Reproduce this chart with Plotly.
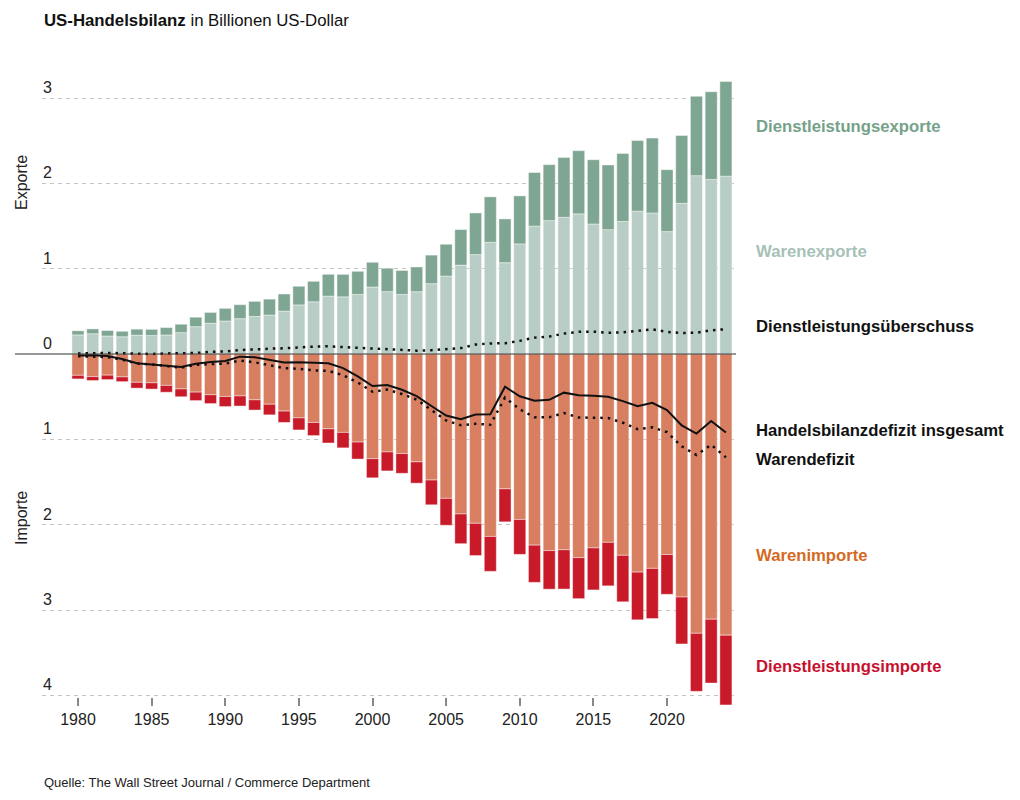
import plotly.graph_objects as go

W, H = 1020, 800

years = list(range(1980, 2025))

# Billionen US-Dollar (trillions)
goods_exports = [0.224, 0.237, 0.211, 0.202, 0.220, 0.216, 0.223, 0.250, 0.320, 0.360,
                 0.387, 0.414, 0.440, 0.457, 0.503, 0.575, 0.612, 0.678, 0.670, 0.698,
                 0.785, 0.731, 0.698, 0.730, 0.824, 0.913, 1.041, 1.165, 1.309, 1.070,
                 1.290, 1.499, 1.563, 1.602, 1.642, 1.524, 1.457, 1.553, 1.674, 1.653,
                 1.434, 1.766, 2.090, 2.046, 2.084]
services_exports = [0.048, 0.057, 0.064, 0.064, 0.071, 0.073, 0.087, 0.099, 0.111, 0.127,
                    0.148, 0.164, 0.177, 0.186, 0.200, 0.219, 0.240, 0.256, 0.263, 0.271,
                    0.290, 0.274, 0.281, 0.290, 0.335, 0.373, 0.417, 0.488, 0.533, 0.513,
                    0.563, 0.628, 0.656, 0.701, 0.741, 0.753, 0.759, 0.798, 0.827, 0.877,
                    0.726, 0.795, 0.930, 1.027, 1.108]
goods_imports = [0.250, 0.265, 0.248, 0.269, 0.332, 0.338, 0.368, 0.410, 0.447, 0.478,
                 0.498, 0.491, 0.537, 0.589, 0.669, 0.749, 0.803, 0.877, 0.919, 1.032,
                 1.227, 1.148, 1.167, 1.264, 1.477, 1.692, 1.875, 1.984, 2.138, 1.580,
                 1.939, 2.240, 2.304, 2.294, 2.386, 2.273, 2.207, 2.359, 2.556, 2.512,
                 2.350, 2.848, 3.273, 3.108, 3.295]
services_imports = [0.042, 0.046, 0.052, 0.055, 0.068, 0.073, 0.080, 0.091, 0.099, 0.103,
                    0.118, 0.119, 0.120, 0.124, 0.133, 0.141, 0.153, 0.166, 0.181, 0.199,
                    0.224, 0.222, 0.231, 0.250, 0.290, 0.315, 0.348, 0.378, 0.409, 0.387,
                    0.409, 0.436, 0.452, 0.461, 0.481, 0.492, 0.510, 0.545, 0.559, 0.588,
                    0.466, 0.550, 0.680, 0.748, 0.817]

services_surplus = [0.006, 0.012, 0.012, 0.009, 0.004, 0.000, 0.007, 0.008, 0.012, 0.025,
                    0.030, 0.046, 0.058, 0.062, 0.067, 0.078, 0.087, 0.090, 0.082, 0.072,
                    0.067, 0.053, 0.050, 0.039, 0.045, 0.058, 0.069, 0.110, 0.124, 0.126,
                    0.154, 0.192, 0.204, 0.239, 0.260, 0.262, 0.249, 0.253, 0.268, 0.288,
                    0.260, 0.245, 0.250, 0.278, 0.291]
goods_deficit = [-0.026, -0.028, -0.036, -0.067, -0.112, -0.122, -0.145, -0.160, -0.127, -0.118,
                 -0.111, -0.077, -0.097, -0.132, -0.166, -0.174, -0.191, -0.198, -0.248, -0.334,
                 -0.442, -0.417, -0.469, -0.534, -0.654, -0.779, -0.834, -0.818, -0.829, -0.510,
                 -0.649, -0.741, -0.741, -0.692, -0.744, -0.750, -0.750, -0.805, -0.881, -0.859,
                 -0.916, -1.082, -1.183, -1.063, -1.211]
total_deficit = [-0.019, -0.016, -0.024, -0.058, -0.109, -0.122, -0.139, -0.152, -0.115, -0.093,
                 -0.081, -0.031, -0.039, -0.070, -0.099, -0.096, -0.104, -0.108, -0.166, -0.262,
                 -0.375, -0.364, -0.419, -0.494, -0.609, -0.721, -0.765, -0.709, -0.705, -0.384,
                 -0.495, -0.548, -0.537, -0.453, -0.484, -0.488, -0.501, -0.552, -0.613, -0.571,
                 -0.656, -0.837, -0.933, -0.785, -0.920]

x_ticks = [1980, 1985, 1990, 1995, 2000, 2005, 2010, 2015, 2020]
y_grid = [-4, -3, -2, -1, 1, 2, 3]
y_label_vals = [3, 2, 1, 0, -1, -2, -3, -4]
y_label_text = ["3", "2", "1", "0", "1", "2", "3", "4"]

C_SX = "#7ea692"
C_GX = "#b7cdc5"
C_GM = "#d87f61"
C_SM = "#c81a29"

FONT = "Liberation Sans, Arial, Helvetica, sans-serif"

def px(xp):
    return xp / W

def py(yp):
    return 1 - yp / H

# plot area in pixels
L, R, T, B = 42, 736, 50, 720
ZERO_PX, UNIT = 354, 256 / 3
yr_top = (ZERO_PX - T) / UNIT
yr_bot = -(B - ZERO_PX) / UNIT
X0_PX, YEAR_PX = 78, 14.725
xr_left = 1980 - (X0_PX - L) / YEAR_PX
xr_right = 1980 + (R - X0_PX) / YEAR_PX

bar_line = dict(color="rgba(255,255,255,0.55)", width=0.8)

fig = go.Figure()
fig.add_trace(go.Bar(x=years, y=goods_exports, marker=dict(color=C_GX, line=bar_line), name="Warenexporte"))
fig.add_trace(go.Bar(x=years, y=services_exports, marker=dict(color=C_SX, line=bar_line), name="Dienstleistungsexporte"))
fig.add_trace(go.Bar(x=years, y=[-v for v in goods_imports], marker=dict(color=C_GM, line=bar_line), name="Warenimporte"))
fig.add_trace(go.Bar(x=years, y=[-v for v in services_imports], marker=dict(color=C_SM, line=bar_line), name="Dienstleistungsimporte"))

DOT = "2.5px,5px"
fig.add_trace(go.Scatter(x=years, y=services_surplus, mode="lines",
                         line=dict(color="#111", width=2.5, dash=DOT), name="Dienstleistungsüberschuss"))
fig.add_trace(go.Scatter(x=years, y=goods_deficit, mode="lines",
                         line=dict(color="#111", width=2.5, dash=DOT), name="Warendefizit"))
fig.add_trace(go.Scatter(x=years, y=total_deficit, mode="lines",
                         line=dict(color="#111", width=2), name="Handelsbilanzdefizit insgesamt"))

fig.update_layout(
    width=W, height=H,
    margin=dict(l=0, r=0, t=0, b=0),
    paper_bgcolor="white", plot_bgcolor="white",
    barmode="relative", bargap=0.18,
    showlegend=False,
    font=dict(family=FONT, color="#111", size=16),
    xaxis=dict(domain=[px(L), px(R)], range=[xr_left, xr_right],
               tickvals=x_ticks, ticks="outside", ticklen=8, tickwidth=1.5, tickcolor="#888",
               showgrid=False, zeroline=False, showline=False,
               anchor="free", position=py(697),
               tickfont=dict(size=16, color="#222", family=FONT), automargin=False),
    yaxis=dict(domain=[py(B), py(T)], range=[yr_bot, yr_top],
               tickvals=y_grid, showticklabels=False, ticks="",
               showgrid=True, gridcolor="#c4c4c4", gridwidth=1, griddash="4px,4px",
               zeroline=False, showline=False, automargin=False),
)

# zero line
fig.add_shape(type="line", xref="paper", yref="y", x0=px(15), x1=px(R), y0=0, y1=0,
              line=dict(color="#333", width=1.2), layer="above")

ann = []
ann.append(dict(x=px(42), y=py(20), xref="paper", yref="paper", xanchor="left", yanchor="middle",
                text="<b>US-Handelsbilanz</b> in Billionen US-Dollar", showarrow=False,
                font=dict(size=16.8, color="#111", family=FONT)))
for v, t in zip(y_label_vals, y_label_text):
    ann.append(dict(x=px(41), y=v, xref="paper", yref="y", xanchor="left", yanchor="bottom",
                    text=t, showarrow=False, yshift=0, font=dict(size=16, color="#222", family=FONT)))
ann.append(dict(x=px(21), y=py(183), xref="paper", yref="paper", textangle=-90,
                xanchor="center", yanchor="middle", text="Exporte", showarrow=False,
                font=dict(size=16, color="#222", family=FONT)))
ann.append(dict(x=px(21), y=py(518), xref="paper", yref="paper", textangle=-90,
                xanchor="center", yanchor="middle", text="Importe", showarrow=False,
                font=dict(size=16, color="#222", family=FONT)))

right_labels = [
    ("Dienstleistungsexporte", 127, "#76a189"),
    ("Warenexporte", 252, "#a7c1b8"),
    ("Dienstleistungsüberschuss", 326, "#111"),
    ("Handelsbilanzdefizit insgesamt", 431, "#111"),
    ("Warendefizit", 459, "#111"),
    ("Warenimporte", 555, "#d46a1f"),
    ("Dienstleistungsimporte", 666, "#c8102e"),
]
for text, ypix, col in right_labels:
    ann.append(dict(x=px(754), y=py(ypix), xref="paper", yref="paper", xanchor="left", yanchor="middle",
                    text="<b>" + text + "</b>", showarrow=False,
                    font=dict(size=16.7, color=col, family=FONT)))

ann.append(dict(x=px(42), y=py(782), xref="paper", yref="paper", xanchor="left", yanchor="middle",
                text="Quelle: The Wall Street Journal / Commerce Department", showarrow=False,
                font=dict(size=13, color="#222", family=FONT)))

fig.update_layout(annotations=ann)

fig.write_html("out.html")
